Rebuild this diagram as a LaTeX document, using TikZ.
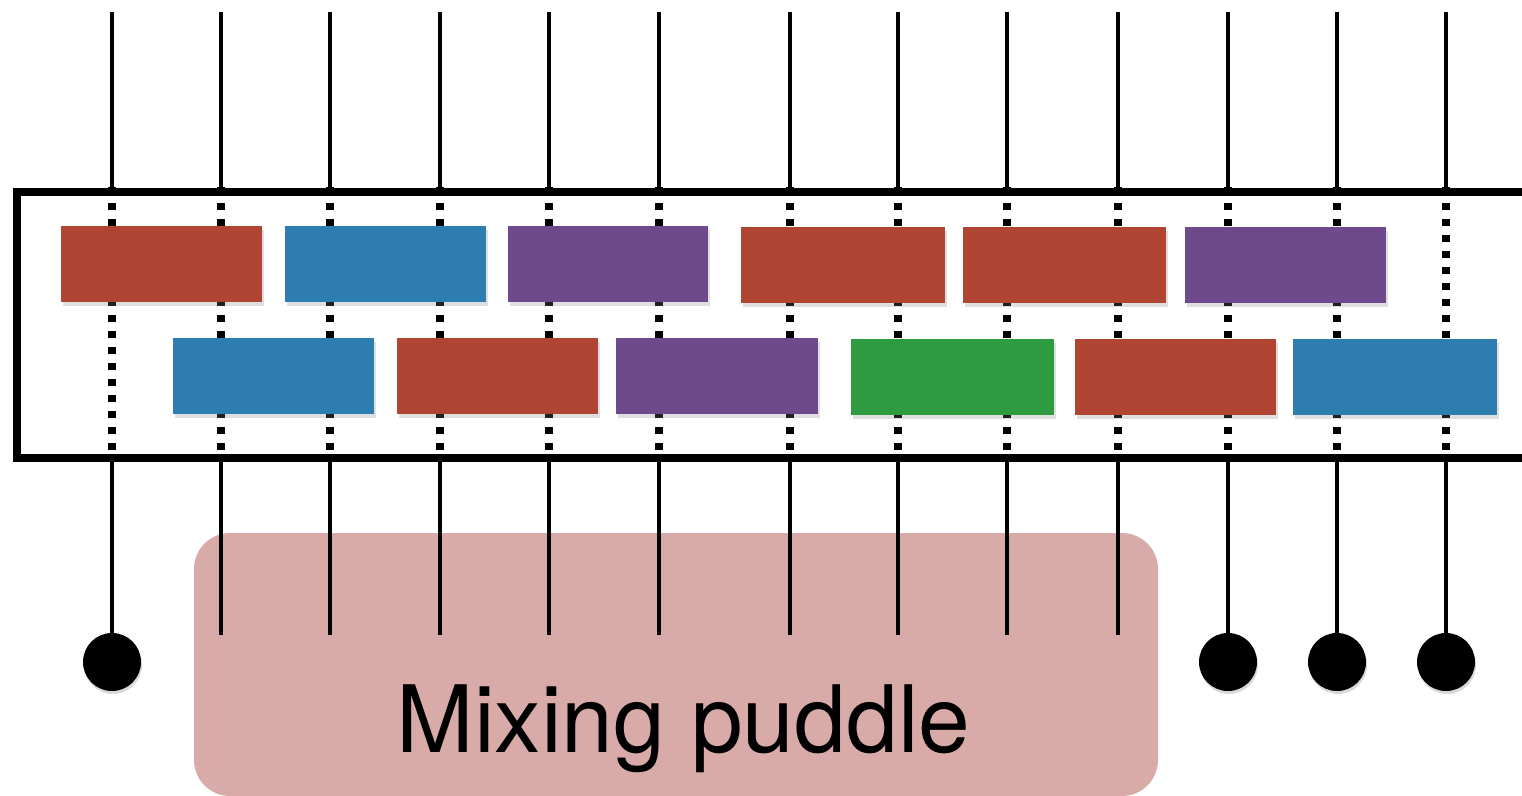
\documentclass[tikz,border=0pt]{standalone}
\usepackage{fontspec}
\setmainfont{TeX Gyre Heros}
\usetikzlibrary{shadows}
\definecolor{cred}{RGB}{176,69,52}
\definecolor{cblue}{RGB}{46,125,176}
\definecolor{cpurple}{RGB}{110,74,140}
\definecolor{cgreen}{RGB}{46,155,64}
\definecolor{cpuddle}{RGB}{217,171,168}
\tikzset{
  blk/.style={draw=none, rectangle, inner sep=0pt, minimum height=76pt,
    drop shadow={opacity=0.25, shadow xshift=2pt, shadow yshift=-4pt}},
  wire/.style={line width=4.4pt},
  dotwire/.style={line width=7.5pt, dash pattern=on 7pt off 9pt},
  frame/.style={line width=8pt},
  ball/.style={circle, fill=black, inner sep=0pt, minimum size=58pt,
    drop shadow={opacity=0.3, shadow xshift=1pt, shadow yshift=-3pt}},
  puddle/.style={fill=cpuddle, rounded corners=36pt}
}
\begin{document}
\begin{tikzpicture}[x=1pt,y=-1pt]
\useasboundingbox (0,0) rectangle (1522,795);
% puddle
\path[puddle] (194,533) rectangle (1158,796);
\node[anchor=base, font=\fontsize{93}{100}\selectfont, inner sep=0pt] (label) at (683.5,752) {Mixing puddle};
% frame
\draw[frame] (1540,192) -- (17,192) -- (17,458) -- (1540,458);
% wires
\foreach \i/\x in {1/112,2/221,3/330,4/440,5/549,6/659,7/790,8/898,9/1007,10/1118,11/1228,12/1337,13/1446} {
  \coordinate (t\i) at (\x,12);
  \coordinate (a\i) at (\x,192);
  \coordinate (b\i) at (\x,458);
  \coordinate (e\i) at (\x,635);
  \draw[wire] (t\i) -- (a\i);
  \draw[dotwire] ([yshift=5pt]a\i) -- ([yshift=-4pt]b\i);
}
\foreach \i in {2,...,10} { \draw[wire] (b\i) -- (e\i); }
\node[ball] (d1) at (112,662) {};
\node[ball] (d11) at (1228,662) {};
\node[ball] (d12) at (1337,662) {};
\node[ball] (d13) at (1446,662) {};
\foreach \i in {1,11,12,13} { \draw[wire] (b\i) -- (d\i.north); }
% blocks row 1
\node[blk, fill=cred, minimum width=201pt] (r1) at (161.5,264) {};
\node[blk, fill=cblue, minimum width=201pt] (r2) at (385.5,264) {};
\node[blk, fill=cpurple, minimum width=200pt] (r3) at (608,264) {};
\node[blk, fill=cred, minimum width=204pt] (r4) at (843,265) {};
\node[blk, fill=cred, minimum width=203pt] (r5) at (1064.5,265) {};
\node[blk, fill=cpurple, minimum width=201pt] (r6) at (1285,265) {};
% blocks row 2
\node[blk, fill=cblue, minimum width=201pt] (s1) at (273.5,376) {};
\node[blk, fill=cred, minimum width=201pt] (s2) at (497.5,376) {};
\node[blk, fill=cpurple, minimum width=202pt] (s3) at (717,376) {};
\node[blk, fill=cgreen, minimum width=203pt] (s4) at (952.5,377) {};
\node[blk, fill=cred, minimum width=201pt] (s5) at (1175.5,377) {};
\node[blk, fill=cblue, minimum width=204pt] (s6) at (1395,377) {};
\end{tikzpicture}
\end{document}
